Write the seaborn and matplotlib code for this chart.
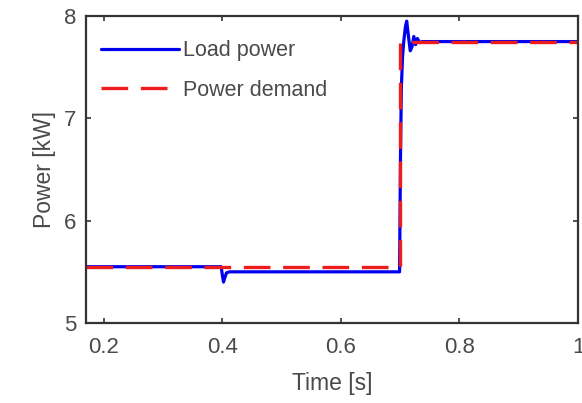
import numpy as np
import pandas as pd
import matplotlib
matplotlib.use("Agg")
import matplotlib.pyplot as plt
import seaborn as sns

# ---------------------------------------------------------------------------
# Data
# ---------------------------------------------------------------------------
load_t = [0.17, 0.398, 0.400, 0.402, 0.404, 0.407, 0.412, 0.699, 0.7005,
          0.702, 0.704, 0.706, 0.709, 0.711, 0.714, 0.717, 0.720, 0.723,
          0.726, 0.729, 0.733, 0.737, 1.0]
load_p = [5.55, 5.55, 5.47, 5.40, 5.44, 5.49, 5.50, 5.50, 6.60,
          7.30, 7.60, 7.75, 7.90, 7.95, 7.80, 7.66, 7.70, 7.80,
          7.72, 7.78, 7.74, 7.75, 7.75]

demand_t = [0.17, 0.70, 0.70, 1.0]
demand_p = [5.55, 5.55, 7.75, 7.75]

load_df = pd.DataFrame({"time": load_t, "power": load_p})
demand_df = pd.DataFrame({"time": demand_t, "power": demand_p})

# ---------------------------------------------------------------------------
# Plot
# ---------------------------------------------------------------------------
sns.set_theme(style="ticks")
plt.rcParams["font.family"] = ["Liberation Sans", "DejaVu Sans"]
text_color = "#4a4a4a"

fig = plt.figure(figsize=(5.82, 4.03), dpi=100)
ax = fig.add_axes([86 / 582, 1 - 323 / 403, (578 - 86) / 582, (323 - 16) / 403])

sns.lineplot(data=load_df, x="time", y="power", ax=ax, color="#0000ee",
             lw=2.3, estimator=None, sort=False, label="Load power", legend=False)
sns.lineplot(data=demand_df, x="time", y="power", ax=ax, color="#ee1c1c",
             lw=2.4, estimator=None, sort=False, label="Power demand", legend=False)
ax.lines[1].set_dashes([8, 3.8])

ax.set_xlim(0.17, 1.0)
ax.set_ylim(5, 8)
ax.set_xticks([0.2, 0.4, 0.6, 0.8, 1.0])
ax.set_xticklabels(["0.2", "0.4", "0.6", "0.8", "1"])
ax.set_yticks([5, 6, 7, 8])
ax.set_xlabel("Time [s]", fontsize=16.5, color=text_color, labelpad=10)
ax.set_ylabel("Power [kW]", fontsize=16.5, color=text_color, labelpad=6)

for sp in ax.spines.values():
    sp.set_visible(True)
    sp.set_linewidth(1.6)
    sp.set_color("#333333")
ax.tick_params(direction="in", length=3.5, width=1.2, color="#333333",
               top=True, right=True, labelsize=16, labelcolor=text_color)
ax.tick_params(axis="x", pad=10)
ax.tick_params(axis="y", pad=7)

leg = ax.legend(loc="upper left", bbox_to_anchor=(0.0, 0.97), frameon=False,
                fontsize=15.5, handlelength=3.6, handletextpad=0.2,
                labelspacing=0.85, borderaxespad=0.3)
for t in leg.get_texts():
    t.set_color(text_color)

fig.savefig("out.png", dpi=100)
plt.close(fig)
